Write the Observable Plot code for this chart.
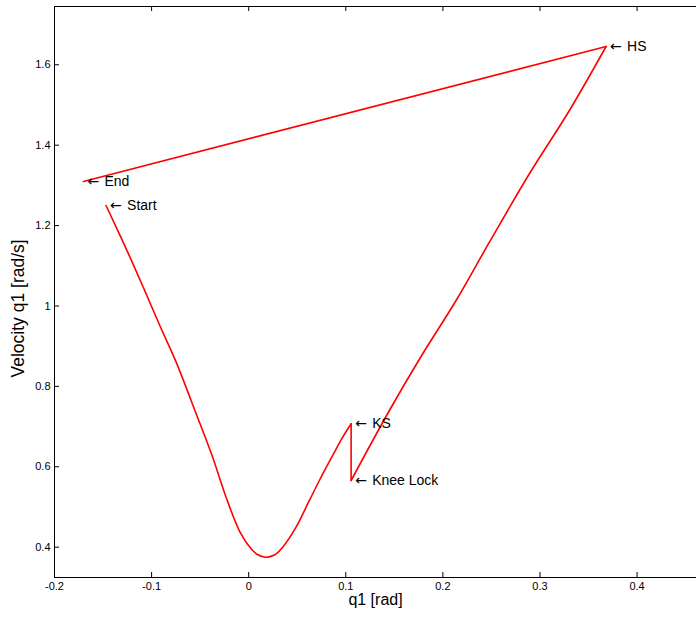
<!DOCTYPE html>
<html>
<head>
<meta charset="utf-8">
<script src="https://cdn.jsdelivr.net/npm/d3@7"></script>
<script src="https://cdn.jsdelivr.net/npm/@observablehq/plot@0.6"></script>
<style>
  body { margin: 0; background: #fff; }
  #chart { width: 696px; height: 621px; overflow: hidden; }
</style>
</head>
<body>
<div id="chart"></div>
<script>
// Phase portrait of the stance-leg angle q1 over one step
const q1 = [
  -0.1469, -0.1246, -0.1074, -0.0902, -0.0748, -0.0542, -0.0371, -0.0233, -0.0088,
  0.0025, 0.0090, 0.0172, 0.0265, 0.0350, 0.0488, 0.0625, 0.0728, 0.0865, 0.0968,
  0.1055, 0.1055, 0.1449, 0.1792, 0.2136, 0.2479, 0.2891, 0.3303, 0.3681, -0.1702
];
const velocity = [
  1.2500, 1.1338, 1.0400, 0.9440, 0.8610, 0.7326, 0.6239, 0.5244, 0.4370,
  0.3960, 0.3818, 0.3751, 0.3806, 0.4000, 0.4498, 0.5162, 0.5659, 0.6281, 0.6736,
  0.7070, 0.5659, 0.7400, 0.8811, 1.0137, 1.1587, 1.3289, 1.4863, 1.6455, 1.3097
];

// Gait events and the sample of the trajectory each one marks
const eventNames = ["Start", "KS", "Knee Lock", "HS", "End"];
const eventIndex = [0, 19, 20, 27, 28];

const xTicks = [-0.2, -0.1, 0, 0.1, 0.2, 0.3, 0.4];
const yTicks = [0.4, 0.6, 0.8, 1, 1.2, 1.4, 1.6];
const xLabel = "q1 [rad]";
const yLabel = "Velocity q1 [rad/s]";

const path = q1.map((q, i) => ({q, v: velocity[i]}));
const events = eventNames.map((name, j) => ({name, q: q1[eventIndex[j]], v: velocity[eventIndex[j]]}));

// smooth phases (swing down to KS, Knee Lock up to HS) and the straight jumps
const [iStart, iKS, iLock, iHS, iEnd] = eventIndex;
const descent = path.slice(iStart, iKS + 1);
const ascent = path.slice(iLock, iHS + 1);
const jumps = [path.slice(iKS, iLock + 1), path.slice(iHS, iEnd + 1)];

const W = 696, H = 621;
const mL = 54, mT = 6, mB = 44, mR = 0;
const innerW = W - mL - mR, innerH = H - mT - mB;
const xDomain = [-0.2, 0.4612];
const yDomain = [0.3246, 1.745];
const tick = 5;
const font = '"Liberation Sans", Arial, Helvetica, sans-serif';
const red = "#ff0000";

const chart = Plot.plot({
  width: W,
  height: H,
  marginLeft: mL,
  marginTop: mT,
  marginBottom: mB,
  marginRight: mR,
  style: {fontFamily: font, background: "#fff", color: "#000"},
  x: {domain: xDomain},
  y: {domain: yDomain},
  marks: [
    // tick labels
    Plot.axisX(xTicks, {tickSize: 0, tickPadding: 5, fontSize: 11, tickFormat: d => String(d), label: null}),
    Plot.axisY(yTicks, {tickSize: 0, tickPadding: 4, fontSize: 11, tickFormat: d => String(d), label: null}),
    // inward tick marks (bottom, top, left)
    Plot.ruleX(xTicks, {insetTop: innerH - tick, stroke: "#000"}),
    Plot.ruleX(xTicks, {insetBottom: innerH - tick, stroke: "#000"}),
    Plot.ruleY(yTicks, {insetRight: innerW - tick, stroke: "#000"}),
    // axes box
    Plot.ruleX([xDomain[0]], {stroke: "#000"}),
    Plot.ruleY([yDomain[0]], {stroke: "#000"}),
    Plot.ruleY([yDomain[1]], {stroke: "#000"}),
    // trajectory
    Plot.line(descent, {x: "q", y: "v", stroke: red, strokeWidth: 1.6, curve: "catmull-rom"}),
    Plot.line(ascent, {x: "q", y: "v", stroke: red, strokeWidth: 1.6, curve: "catmull-rom"}),
    ...jumps.map(seg => Plot.line(seg, {x: "q", y: "v", stroke: red, strokeWidth: 1.6})),
    // event annotations: arrow then name
    Plot.text(events, {x: "q", y: "v", text: () => "\u2190", textAnchor: "start", dx: 4, fontSize: 14, fontFamily: "DejaVu Sans", fill: "#000"}),
    Plot.text(events, {x: "q", y: "v", text: "name", textAnchor: "start", dx: 21, fontSize: 14, fill: "#000"}),
    // axis titles
    Plot.text([xLabel], {frameAnchor: "bottom", dy: 27, fontSize: 16, fill: "#000"}),
    Plot.text([yLabel], {y: () => 0.994, frameAnchor: "left", textAnchor: "middle", dx: -36, rotate: -90, fontSize: 17.5, fill: "#000"})
  ]
});

document.getElementById("chart").appendChild(chart);
</script>
</body>
</html>
